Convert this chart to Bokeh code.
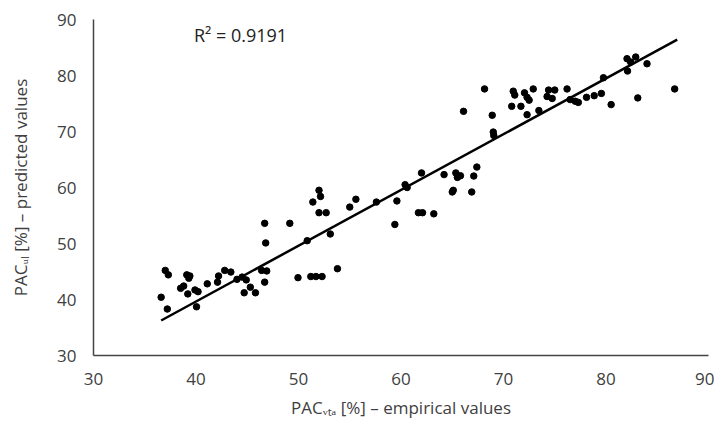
from bokeh.plotting import figure
from bokeh.models import Label, Range1d, FixedTicker
from bokeh.embed import file_html
from bokeh.resources import INLINE

# PAC_vta empirical values (x) and PAC_ul predicted values (y)
emp = [36.6, 37.2, 37.0, 37.3, 38.5, 38.8, 39.2, 39.1, 39.4, 39.3,
       39.9, 40.2, 40.05, 41.1, 42.1, 42.2, 42.8, 43.4, 44.0, 44.5,
       44.9, 44.7, 45.3, 45.8, 46.4, 46.9, 46.7, 46.8, 46.7, 49.95,
       51.2, 51.7, 52.3,
       49.15, 50.85, 51.4, 52.0, 52.15, 52.0, 52.7, 53.1, 53.8, 55.0,
       55.6, 57.6, 59.4, 59.6, 60.4, 60.6, 61.7, 62.1, 62.0, 63.2,
       64.2, 65.0, 65.1, 65.35, 65.5, 65.8, 66.9, 67.1, 67.4, 66.1,
       68.15, 68.9, 69.0, 69.05, 70.8, 70.95, 71.1, 71.7, 72.05, 72.3,
       72.5, 72.3, 72.9, 73.45, 74.4, 75.0, 74.25, 74.75, 76.2, 76.5,
       77.0, 77.3, 78.1, 78.85, 79.55, 79.75, 80.5, 82.05, 82.4, 82.9,
       82.1, 83.1, 84.0, 86.7]
pred = [40.4, 38.3, 45.2, 44.4, 42.0, 42.4, 41.0, 44.4, 44.2, 43.8,
        41.7, 41.4, 38.7, 42.8, 43.1, 44.2, 45.2, 44.9, 43.6, 44.0,
        43.5, 41.2, 42.2, 41.2, 45.2, 45.1, 43.1, 50.1, 53.6, 43.9,
        44.1, 44.1, 44.1,
        53.6, 50.5, 57.4, 59.5, 58.4, 55.5, 55.5, 51.7, 45.5, 56.5,
        57.9, 57.4, 53.4, 57.6, 60.5, 60.0, 55.5, 55.5, 62.6, 55.3,
        62.3, 59.2, 59.5, 62.6, 61.8, 62.1, 59.2, 62.05, 63.65, 73.6,
        77.6, 72.9, 69.9, 69.3, 74.5, 77.2, 76.5, 74.5, 76.9, 76.1,
        75.6, 73.0, 77.6, 73.75, 77.4, 77.4, 76.25, 75.9, 77.6, 75.7,
        75.4, 75.2, 76.1, 76.4, 76.8, 79.6, 74.8, 83.0, 82.4, 83.3,
        80.8, 76.0, 82.1, 77.6]

trend_x = [36.6, 86.95]
trend_y = [36.25, 86.4]

x_ticks = [30, 40, 50, 60, 70, 80, 90]
y_ticks = [30, 40, 50, 60, 70, 80, 90]
r2_text = "R² = 0.9191"
x_title = "PACᵥₜₐ [%] – empirical values"
y_title = "PACᵤₗ [%] – predicted values"

FONT = "Open Sans"
TXT = "#404040"

p = figure(width=714, height=425, output_backend="svg", toolbar_location=None,
           x_range=Range1d(30, 90), y_range=Range1d(30, 90),
           min_border_left=93, min_border_right=6, min_border_top=19,
           min_border_bottom=70)
p.outline_line_color = None
p.xgrid.visible = False
p.ygrid.visible = False
p.background_fill_color = "white"
p.border_fill_color = "white"

for ax, ticks in ((p.xaxis[0], x_ticks), (p.yaxis[0], y_ticks)):
    ax.ticker = FixedTicker(ticks=ticks)
    ax.axis_line_color = "#444444"
    ax.axis_line_width = 1.5
    ax.major_tick_line_color = None
    ax.minor_tick_line_color = None
    ax.major_tick_in = 0
    ax.major_tick_out = 0
    ax.major_label_text_font = FONT
    ax.major_label_text_font_size = "17px"
    ax.major_label_text_color = TXT
    ax.axis_label_text_font = FONT
    ax.axis_label_text_font_size = "17px"
    ax.axis_label_text_font_style = "normal"
    ax.axis_label_text_color = TXT
p.xaxis.major_label_standoff = 17
p.yaxis.major_label_standoff = 17
p.xaxis.axis_label = x_title
p.yaxis.axis_label = y_title
p.xaxis.axis_label_standoff = 8
p.yaxis.axis_label_standoff = 22

p.scatter(emp, pred, size=6.5, color="black")
p.line(trend_x, trend_y, line_width=2.5, color="black")

p.add_layout(Label(x=39.8, y=87.2, text=r2_text, text_font=FONT,
                   text_font_size="18px", text_color="#222222",
                   text_baseline="middle"))

open("out.html", "w").write(file_html(p, INLINE))
